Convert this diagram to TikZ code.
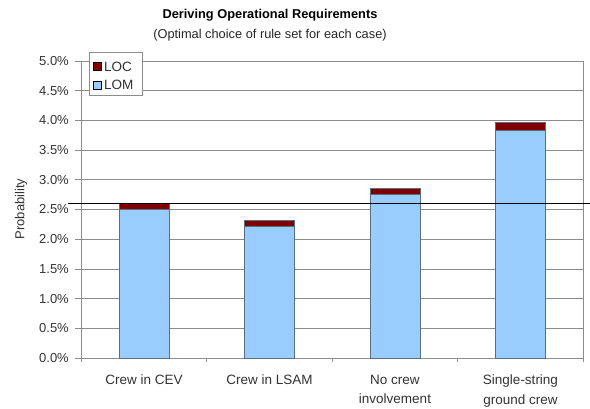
\documentclass[tikz,border=0pt]{standalone}
\usepackage{fontspec}
\setmainfont{Liberation Sans}
\definecolor{lom}{HTML}{99CCFF}
\definecolor{loc}{HTML}{800000}
\definecolor{gridc}{HTML}{8C8C8C}
\definecolor{barline}{HTML}{5A6E80}
\tikzset{
  gridline/.style={draw=gridc, line width=0.8pt},
  lombar/.style={fill=lom, draw=barline, line width=0.7pt},
  locbar/.style={fill=loc, draw=barline, line width=0.7pt},
  ticklabel/.style={anchor=east, inner sep=0pt, font=\fontsize{13}{15}\selectfont, text=black!80},
  catlabel/.style={anchor=north, inner sep=0pt, align=center, font=\fontsize{13.5}{19.5}\selectfont, text=black!80},
  legbox/.style={draw=gridc, fill=white, line width=0.8pt},
  legmark/.style={draw=black, line width=0.5pt, minimum size=8pt, inner sep=0pt}
}
\begin{document}
\begin{tikzpicture}[x=1pt,y=1pt]
\useasboundingbox (0,0) rectangle (590,408);
\fill[white] (0,0) rectangle (590,408);
% title
\node[font=\bfseries\fontsize{12.8}{15}\selectfont] (title) at (270,393) {Deriving Operational Requirements};
\node[font=\fontsize{12.8}{15}\selectfont, text=black!85] (subtitle) at (270,373) {(Optimal choice of rule set for each case)};
\begin{scope}[yshift=50pt, y=59.4pt]
  % gridlines
  \foreach \v in {0.5,1.0,...,4.6} \draw[gridline] (81,\v) -- (583,\v);
  \draw[gridline] (81,0) rectangle (583,5);
  % y ticks and labels
  \foreach \v/\t in {0/0.0,0.5/0.5,1/1.0,1.5/1.5,2/2.0,2.5/2.5,3/3.0,3.5/3.5,4/4.0,4.5/4.5,5/5.0}{
    \draw[gridline] (75,\v) -- (81,\v);
    \node[ticklabel] (yl\t) at (69,\v) {\t\%};
  }
  % x ticks
  \foreach \x in {81,206.5,332,457.5,583} \draw[gridline] (\x,0) -- (\x,-0.07);
  % bars
  \foreach \c/\a/\b [count=\i] in {144/2.5/2.6, 269.5/2.22/2.31, 395/2.75/2.85, 520.5/3.84/3.97}{
    \draw[lombar] (\c-25,0) rectangle (\c+25,\a);
    \draw[locbar] (\c-25,\a) rectangle (\c+25,\b);
  }
  % threshold line
  \coordinate (thA) at (68,2.6);
  \coordinate (thB) at (590,2.6);
  \draw[black, line width=1.8pt] (thA) -- (thB);
  % axis title
  \node[rotate=90, font=\fontsize{13}{15}\selectfont, text=black!80] (ylab) at (21,2.51) {Probability};
\end{scope}
% category labels
\node[catlabel] (c1) at (144,33) {Crew in CEV};
\node[catlabel] (c2) at (269.5,33) {Crew in LSAM};
\node[catlabel] (c3) at (395,33) {No crew\\involvement};
\node[catlabel] (c4) at (520.5,33) {Single-string\\ground crew};
% legend
\draw[legbox] (89,356) rectangle (142,313);
\node[legmark, fill=loc] (mloc) at (97.5,341.5) {};
\node[legmark, fill=lom] (mlom) at (97.5,323) {};
\node[anchor=west, inner sep=0pt, font=\fontsize{13.5}{15}\selectfont, text=black!80] (tloc) at (104,341.5) {LOC};
\node[anchor=west, inner sep=0pt, font=\fontsize{13.5}{15}\selectfont, text=black!80] (tlom) at (104,323) {LOM};
\end{tikzpicture}
\end{document}
